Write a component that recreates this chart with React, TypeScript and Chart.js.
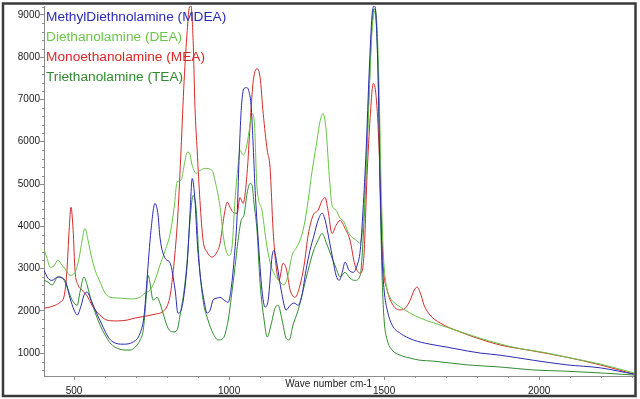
import React, { useEffect, useRef } from 'react';
import { Chart, registerables } from 'chart.js';

Chart.register(...registerables);

// ---- data ----
const xTicks = [500, 1000, 1500, 2000];
const yTicks = [1000, 2000, 3000, 4000, 5000, 6000, 7000, 8000, 9000];
const xMinorStep = 100;
const yMinorStep = 200;
const xTitle = 'Wave number cm-1';

const mdeaLabel = 'MethylDiethnolamine (MDEA)';
const mdeaWave = [403,416,429,448,471,487,500,510,523,532,542,555,568,594,610,626,658,690,713,726,735,748,761,771,777,794,810,826,835,848,865,874,881,890,897,906,919,929,939,948,961,971,984,997,1006,1016,1026,1032,1039,1048,1058,1065,1071,1077,1084,1094,1106,1116,1126,1139,1145,1155,1168,1184,1197,1210,1223,1235,1248,1261,1274,1287,1300,1310,1323,1335,1345,1355,1365,1374,1387,1400,1413,1423,1432,1442,1452,1461,1468,1474,1481,1487,1494,1500,1510,1526,1552,1594,1648,1703,1768,1810,1874,1981,2090,2197,2306];
const mdeaAbs = [2960,2770,2720,2800,2720,2300,2020,1900,2130,2370,2440,2250,2020,1610,1380,1260,1210,1260,1470,1900,2720,3900,4540,4260,3740,3240,3125,2490,1945,2090,3125,4310,5130,4610,3670,2890,2250,1945,2020,2250,2300,2320,2250,2200,2490,3200,4260,5560,6740,7260,7280,7160,6860,6030,4850,3670,2490,2090,2250,3310,3430,3080,2490,2020,2130,2180,2130,2370,2960,3430,3790,4140,4310,4140,3670,3200,2840,2720,2910,3150,2960,2910,3080,3430,4380,5800,7680,8980,9220,8980,7450,5090,3200,2490,2020,1660,1470,1310,1210,1140,1050,1000,950,830,720,650,500];

const deaLabel = 'Diethanolamine (DEA)';
const deaWave = [403,413,423,435,448,461,474,487,503,516,526,535,545,555,568,584,600,616,648,681,713,729,745,761,777,794,810,823,832,845,855,865,871,881,894,906,923,945,958,971,981,990,1000,1010,1019,1029,1035,1045,1055,1065,1074,1081,1090,1106,1119,1132,1148,1165,1177,1190,1203,1216,1229,1242,1255,1268,1281,1294,1303,1313,1323,1332,1345,1358,1371,1384,1397,1410,1423,1432,1442,1452,1461,1471,1477,1484,1490,1497,1506,1519,1535,1552,1584,1616,1703,1810,1916,2026,2090,2197,2306];
const deaAbs = [3450,3240,3030,3060,3200,3080,2960,2840,2910,3240,3670,3950,3670,3310,2960,2680,2420,2320,2300,2280,2320,2420,2490,2720,3080,3430,3830,4450,5040,5090,5440,5750,5750,5440,5250,5320,5370,5320,4970,4450,3790,3430,3310,3550,4610,5440,5800,5680,5840,6270,6670,6510,4920,4380,3670,3150,2840,2680,2610,2840,3310,3480,3670,4020,4610,5320,5910,6500,6670,6270,5200,4500,4380,4190,4100,3860,3740,3670,3600,4020,5320,7210,8630,9100,8750,7210,5090,3430,2650,2320,2180,2090,1945,1830,1610,1350,1140,1000,900,740,530];

const meaLabel = 'Monoethanolamine (MEA)';
const meaWave = [403,423,439,455,468,477,484,490,497,503,513,526,542,558,574,590,606,639,671,697,729,761,784,800,810,819,829,835,845,855,865,871,877,884,890,897,906,916,929,945,961,971,984,994,1003,1013,1026,1035,1045,1058,1068,1077,1090,1100,1110,1123,1132,1142,1152,1161,1174,1184,1197,1213,1229,1242,1255,1271,1287,1300,1310,1319,1332,1345,1358,1374,1390,1406,1423,1435,1445,1455,1465,1474,1484,1490,1497,1510,1529,1552,1568,1584,1597,1606,1616,1629,1648,1681,1745,1810,1874,1981,2090,2197,2306];
const meaAbs = [2060,2090,2130,2200,2350,2960,3900,4450,3900,2960,2610,2490,2350,2130,1970,1850,1780,1760,1780,1830,1870,1920,1970,2110,2370,2890,3670,4310,5800,7450,8630,9150,9220,8390,6810,5800,4610,3670,3390,3270,3390,3600,4260,4570,4450,4330,4310,4680,4540,5250,6430,7380,7730,7520,6670,5800,5400,3900,3030,2720,3125,3010,2490,2320,2610,3080,3790,4260,4380,4610,4680,4380,3830,4020,4140,3950,3670,3080,2890,3310,5200,6570,7380,7090,5800,4380,3080,2490,2130,2020,2060,2250,2490,2560,2440,2130,1900,1710,1500,1330,1190,1050,900,720,500];

const teaLabel = 'Triethanolamine (TEA)';
const teaWave = [403,416,429,448,468,481,494,510,519,532,542,555,571,584,600,616,632,648,665,681,697,713,723,732,739,745,755,768,777,790,803,819,832,842,855,865,874,884,894,903,916,932,948,965,981,997,1010,1019,1029,1039,1048,1058,1068,1074,1081,1090,1100,1113,1123,1135,1148,1158,1171,1184,1194,1206,1223,1239,1255,1271,1287,1300,1313,1329,1345,1358,1374,1390,1406,1423,1432,1442,1452,1461,1468,1474,1481,1487,1494,1500,1510,1526,1552,1584,1616,1658,1768,1874,1981,2090,2197,2306];
const teaAbs = [2720,2680,2610,2800,2720,2490,2250,2130,2440,2800,2610,2250,1900,1660,1430,1240,1140,1090,1070,1070,1140,1310,1540,2250,2840,2650,2250,2320,2180,1870,1590,1500,1540,1900,2490,3200,4140,4730,4380,3200,2250,1780,1470,1310,1350,1780,2490,3030,3670,4140,4260,4780,5015,4970,4500,3900,2650,1780,1380,1660,2060,2130,1780,1350,1310,1660,2020,2490,2960,3390,3670,3830,3620,3310,3010,2800,2910,2770,2720,2840,3670,5320,7210,8750,9150,8870,7450,4850,2720,1780,1310,1070,950,880,830,810,720,670,600,570,530,480];

const X_MIN = 403;
const X_MAX = 2306;
const Y_MIN = 457;
const Y_MAX = 9212;

const FONT = "'Liberation Sans', Arial, sans-serif";
const AXIS_COLOR = '#8c8c8c';

function series(wave: number[], abs: number[]) {
  const n = Math.min(wave.length, abs.length);
  const out: { x: number; y: number }[] = [];
  for (let i = 0; i < n; i++) out.push({ x: wave[i], y: abs[i] });
  return out;
}

const decorPlugin = {
  id: 'decor',
  afterDraw(chart: any) {
    const { ctx, chartArea } = chart;
    const xs = chart.scales.x;
    const ys = chart.scales.y;
    ctx.save();
    // minor ticks
    ctx.strokeStyle = AXIS_COLOR;
    ctx.lineWidth = 1;
    ctx.beginPath();
    for (let v = Math.ceil(X_MIN / xMinorStep) * xMinorStep; v <= X_MAX; v += xMinorStep) {
      if (xTicks.includes(v)) continue;
      const px = Math.round(xs.getPixelForValue(v)) + 0.5;
      ctx.moveTo(px, chartArea.bottom);
      ctx.lineTo(px, chartArea.bottom + 2);
    }
    for (let v = Math.ceil(Y_MIN / yMinorStep) * yMinorStep; v <= Y_MAX; v += yMinorStep) {
      if (yTicks.includes(v)) continue;
      const py = Math.round(ys.getPixelForValue(v)) + 0.5;
      ctx.moveTo(chartArea.left, py);
      ctx.lineTo(chartArea.left - 2, py);
    }
    ctx.stroke();

    // x title, inline just left of the 1500 label
    ctx.fillStyle = '#1a1a1a';
    ctx.font = `10px ${FONT}`;
    ctx.textAlign = 'right';
    ctx.textBaseline = 'middle';
    ctx.fillText(xTitle, xs.getPixelForValue(1500) - 12, chartArea.bottom + 8);

    // legend: coloured text in top-left of plot
    ctx.font = `13.7px ${FONT}`;
    ctx.textAlign = 'left';
    ctx.textBaseline = 'middle';
    chart.data.datasets.forEach((ds: any, i: number) => {
      ctx.fillStyle = ds.legendColor || ds.borderColor;
      ctx.fillText(ds.label, chartArea.left + 2, chartArea.top + 11 + i * 20);
    });

    // outer frame
    ctx.strokeStyle = '#3a3a3a';
    ctx.lineWidth = 2.5;
    ctx.strokeRect(3, 3.5, 632.5, 392.5);
    ctx.restore();
  },
};

export default function App() {
  const canvasRef = useRef<HTMLCanvasElement | null>(null);

  useEffect(() => {
    document.body.style.margin = '0';
    const canvas = canvasRef.current;
    if (!canvas) return;
    const mk = (label: string, wave: number[], abs: number[], color: string, legendColor: string) => ({
      label,
      data: series(wave, abs),
      borderColor: color,
      legendColor,
      backgroundColor: color,
      borderWidth: 1,
      pointRadius: 0,
      fill: false,
      cubicInterpolationMode: 'monotone' as const,
    });
    const chart = new Chart(canvas, {
      type: 'line',
      data: {
        datasets: [
          mk(mdeaLabel, mdeaWave, mdeaAbs, '#2b2bb0', '#2a2ab8'),
          mk(deaLabel, deaWave, deaAbs, '#66c444', '#6cc64a'),
          mk(meaLabel, meaWave, meaAbs, '#d62a2a', '#dc2626'),
          mk(teaLabel, teaWave, teaAbs, '#2f8c2f', '#2e8b2e'),
        ] as any,
      },
      options: {
        responsive: false,
        animation: false,
        layout: { padding: { top: 5, right: 6, left: 0, bottom: 0 } },
        plugins: { legend: { display: false }, tooltip: { enabled: false } },
        scales: {
          x: {
            type: 'linear',
            min: X_MIN,
            max: X_MAX,
            afterBuildTicks: (s: any) => {
              s.ticks = xTicks.map((v) => ({ value: v }));
            },
            afterFit: (s: any) => {
              s.height = 23;
            },
            grid: { drawOnChartArea: false, drawTicks: true, tickLength: 4, color: AXIS_COLOR },
            border: { display: true, color: AXIS_COLOR },
            ticks: {
              autoSkip: false,
              maxRotation: 0,
              padding: 5,
              color: '#1a1a1a',
              font: { family: FONT, size: 10 },
              callback: (v: any) => String(v),
            },
          },
          y: {
            type: 'linear',
            min: Y_MIN,
            max: Y_MAX,
            afterBuildTicks: (s: any) => {
              s.ticks = yTicks.map((v) => ({ value: v }));
            },
            afterFit: (s: any) => {
              s.width = 44;
            },
            grid: { drawOnChartArea: false, drawTicks: true, tickLength: 4, color: AXIS_COLOR },
            border: { display: true, color: AXIS_COLOR },
            ticks: {
              padding: 0,
              color: '#1a1a1a',
              font: { family: FONT, size: 10 },
              callback: (v: any) => String(v),
            },
          },
        },
      },
      plugins: [decorPlugin],
    });
    return () => chart.destroy();
  }, []);

  return (
    <div style={{ width: 640, height: 399, background: '#fff' }}>
      <canvas ref={canvasRef} width={640} height={399} style={{ display: 'block' }} />
    </div>
  );
}
